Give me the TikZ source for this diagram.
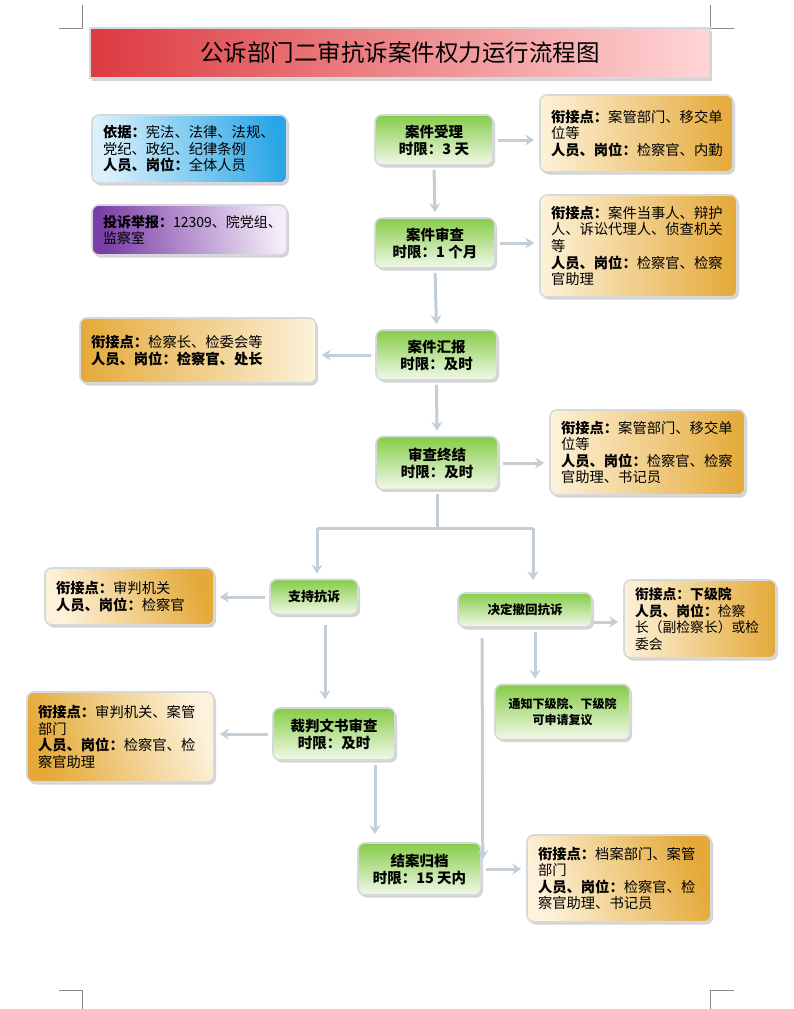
\documentclass[tikz,border=0pt]{standalone}
\usepackage{fontspec}
\setmainfont{Noto Sans CJK SC}
\usetikzlibrary{shadows,arrows.meta,calc}
\definecolor{cream}{HTML}{FDF2DA}
\definecolor{orng}{HTML}{E4A938}
\definecolor{grnT}{HTML}{86CC48}
\definecolor{grnB}{HTML}{F2F9EA}
\definecolor{arrc}{HTML}{C3CED6}
\definecolor{bord}{HTML}{D6D9DC}
\definecolor{bluL}{HTML}{DCF1FC}
\definecolor{bluD}{HTML}{2AA6E6}
\definecolor{purD}{HTML}{7A3EA6}
\definecolor{purL}{HTML}{F4ECF9}
\definecolor{redL}{HTML}{DC3A40}
\definecolor{redR}{HTML}{FFD6D6}
\definecolor{crop}{HTML}{8A8A8A}
\tikzset{
  base/.style={rounded corners=7pt, draw=bord, line width=1.6pt,
    drop shadow={opacity=0.35, shadow xshift=2pt, shadow yshift=-2.5pt}},
  gbox/.style={base, top color=grnT, bottom color=grnB, align=center,
    font=\fontsize{14.5}{17}\selectfont\bfseries, inner sep=2pt},
  infobox/.style={base, align=left, inner xsep=11pt, inner ysep=2pt,
    font=\fontsize{14.3}{16.6}\selectfont},
  oR/.style={infobox, left color=cream, right color=orng},
  oL/.style={infobox, left color=orng, right color=cream},
  arr/.style={draw=arrc, line width=3pt,
    -{Stealth[length=9pt,width=11pt,inset=3pt]}, shorten <=4pt, shorten >=5pt},
  ln/.style={draw=arrc, line width=3pt},
  cropm/.style={draw=crop, line width=0.7pt}
}
\begin{document}
\begin{tikzpicture}[x=1pt,y=-1pt]
\useasboundingbox (0,0) rectangle (793,1009);
% crop marks
\draw[cropm] (82,5) -- (82,28) -- (59,28);
\draw[cropm] (710,5) -- (710,28) -- (734,28);
\draw[cropm] (82,1009) -- (82,990) -- (59,990);
\draw[cropm] (710,1009) -- (710,990) -- (734,990);

% title
\node[draw=bord, line width=2pt, left color=redL, right color=redR,
  minimum width=620pt, minimum height=50pt,
  drop shadow={opacity=0.35, shadow xshift=2pt, shadow yshift=-2.5pt},
  font=\fontsize{23.5}{26}\selectfont] (title) at (400,53) {公诉部门二审抗诉案件权力运行流程图};

% left info boxes
\node[infobox, left color=bluL, right color=bluD, shading angle=100,
  minimum width=195pt, minimum height=68pt, text width=173pt] (basis) at (189.5,149)
  {\textbf{依据：}宪法、法律、法规、\\党纪、政纪、纪律条例\\\textbf{人员、岗位：}全体人员};
\node[infobox, left color=purD, right color=purL, shading angle=100,
  minimum width=195pt, minimum height=50pt, text width=173pt,
  font=\fontsize{14}{16.6}\selectfont] (report) at (189.5,230)
  {\textbf{投诉举报：}12309、院党组、\\监察室};

% green process nodes
\node[gbox, minimum width=118pt, minimum height=50pt] (shouli) at (434,140) {案件受理\\时限：3 天};
\node[gbox, minimum width=120pt, minimum height=50pt] (shencha) at (435,243) {案件审查\\时限：1 个月};
\node[gbox, minimum width=121pt, minimum height=50pt] (huibao) at (436.5,355) {案件汇报\\时限：及时};
\node[gbox, minimum width=122pt, minimum height=53pt] (zhongjie) at (437,463) {审查终结\\时限：及时};
\node[gbox, minimum width=88pt, minimum height=35pt, font=\fontsize{13}{15}\selectfont\bfseries] (zhichi) at (314,597) {支持抗诉};
\node[gbox, minimum width=134pt, minimum height=34pt, font=\fontsize{12.5}{15}\selectfont\bfseries] (chehui) at (525,610) {决定撤回抗诉};
\node[gbox, minimum width=135pt, minimum height=55pt, font=\fontsize{12}{15.5}\selectfont\bfseries] (tongzhi) at (562.5,712) {通知下级院、下级院\\可申请复议};
\node[gbox, minimum width=122pt, minimum height=52pt] (caipan) at (334,734) {裁判文书审查\\时限：及时};
\node[gbox, minimum width=123pt, minimum height=52pt] (jiean) at (419.5,869) {结案归档\\时限：15 天内};

% orange boxes
\node[oR, minimum width=193pt, minimum height=77pt, text width=171pt] (o1) at (636.5,133.5)
  {\textbf{衔接点：}案管部门、移交单\\位等\\\textbf{人员、岗位：}检察官、内勤};
\node[oR, minimum width=197pt, minimum height=102pt, text width=175pt] (o2) at (638.5,246)
  {\textbf{衔接点：}案件当事人、辩护\\人、诉讼代理人、侦查机关\\等\\\textbf{人员、岗位：}检察官、检察\\官助理};
\node[oL, minimum width=236pt, minimum height=65pt, text width=214pt] (o3) at (198,350.5)
  {\textbf{衔接点：}检察长、检委会等\\\textbf{人员、岗位：检察官、处长}};
\node[oR, minimum width=195pt, minimum height=85pt, text width=173pt] (o4) at (647.5,452.5)
  {\textbf{衔接点：}案管部门、移交单\\位等\\\textbf{人员、岗位：}检察官、检察\\官助理、书记员};
\node[oR, shading angle=110, minimum width=169pt, minimum height=57pt, text width=147pt] (o5) at (129.5,596.5)
  {\textbf{衔接点：}审判机关\\\textbf{人员、岗位：}检察官};
\node[oR, minimum width=150pt, minimum height=78pt, text width=130pt,
  font=\fontsize{13.8}{16.4}\selectfont] (o6) at (700,619)
  {\textbf{衔接点：下级院}\\\textbf{人员、岗位：}检察\\长（副检察长）或检\\委会};
\node[oL, shading angle=110, minimum width=185pt, minimum height=90pt, text width=165pt] (o7) at (120.5,737)
  {\textbf{衔接点：}审判机关、案管\\部门\\\textbf{人员、岗位：}检察官、检\\察官助理};
\node[oR, shading angle=110, minimum width=182pt, minimum height=87pt, text width=162pt] (o8) at (619,878.5)
  {\textbf{衔接点：}档案部门、案管\\部门\\\textbf{人员、岗位：}检察官、检\\察官助理、书记员};

% junction coordinates
\coordinate (jl) at (317,528);
\coordinate (jr) at (533,528);
\coordinate (fs) at (482,638);
\coordinate (cs) at ($(chehui.south)+(10,0)$);
\coordinate (zs) at ($(zhichi.south)+(11,0)$);
\coordinate (ps) at ($(caipan.south)+(41,0)$);

% connectors
\draw[arr] (shouli.east) -- (o1.west |- shouli.east);
\draw[arr] (shouli.south) -- (shencha.north);
\draw[arr] (shencha.east) -- (o2.west |- shencha.east);
\draw[arr] (shencha.south) -- (huibao.north);
\draw[arr] (huibao.west) -- (o3.east |- huibao.west);
\draw[arr] (huibao.south) -- (zhongjie.north);
\draw[arr] (zhongjie.east) -- (o4.west |- zhongjie.east);
\draw[ln, shorten <=4pt] (zhongjie.south) -- (zhongjie.south |- jl);
\draw[ln] (jl) -- (jr);
\draw[arr, shorten <=0pt] (jl) -- (jl |- zhichi.north);
\draw[arr, shorten <=0pt, shorten >=12pt] (jr) -- (jr |- chehui.north);
\draw[arr] (zhichi.west) -- (o5.east |- zhichi.west);
\draw[arr, shorten <=10pt, shorten >=8pt] (zs) -- (zs |- caipan.north);
\draw[arr, shorten <=0pt] ($(chehui.east)+(0,12)$) -- ($(o6.west)+(0,3)$);
\draw[arr] (cs) -- (cs |- tongzhi.north);
\draw[arr] (caipan.west) -- (o7.east |- caipan.west);
\draw[arr, shorten >=8pt] (ps) -- (ps |- jiean.north);
\draw[arr, shorten <=0pt, shorten >=0pt] (fs) -- ($(jiean.north east)+(1,17)$);
\draw[arr] (jiean.east) -- (o8.west |- jiean.east);
\end{tikzpicture}
\end{document}
